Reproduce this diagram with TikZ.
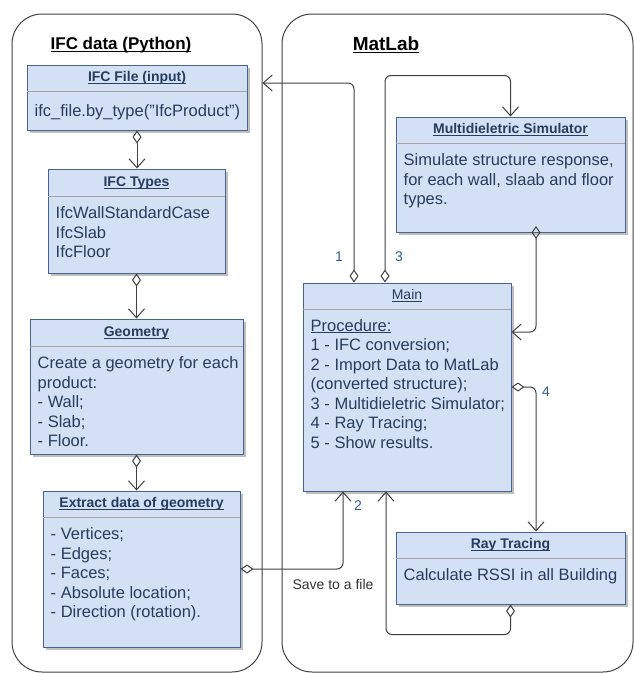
\documentclass[tikz,border=0pt]{standalone}
\usepackage{fontspec}
\setmainfont{Liberation Sans}
\usetikzlibrary{arrows.meta,shadows}

\definecolor{classfill}{RGB}{212,225,245}
\definecolor{classdraw}{RGB}{70,100,145}
\definecolor{classtext}{RGB}{40,60,92}
\definecolor{sepgray}{RGB}{165,165,165}
\definecolor{linegray}{RGB}{64,64,64}
\definecolor{labelblue}{RGB}{50,90,140}

\newcommand{\ulabel}[1]{\underline{\vphantom{X}\smash{#1}}}

\tikzstyle{lane} = [rectangle, rounded corners=30pt, draw=linegray, line width=1pt]
\tikzstyle{lanetitle} = [font=\fontsize{17}{20}\selectfont\bfseries]
\tikzstyle{classbox} = [rectangle, draw=classdraw, line width=1pt, fill=classfill, drop shadow={shadow xshift=3pt, shadow yshift=-3pt, fill=black!50, opacity=0.5}]
\tikzstyle{classtitle} = [text=classtext, font=\fontsize{14}{17}\selectfont\bfseries]
\tikzstyle{classbody} = [anchor=north west, text=classtext, align=left, inner xsep=8pt, inner ysep=10pt, font=\fontsize{16.5}{19.5}\selectfont]
\tikzstyle{separator} = [draw=sepgray, line width=1pt, shorten <=0.5pt, shorten >=0.5pt]
\tikzstyle{link} = [draw=linegray, line width=1pt, rounded corners=6pt, {Diamond[open,length=13pt,width=9pt]}-{Straight Barb[length=9pt,width=16pt]}]
\tikzstyle{linklabel} = [text=labelblue, font=\fontsize{14}{17}\selectfont]

\begin{document}
\begin{tikzpicture}[x=1pt, y=-1pt]
    \useasboundingbox (0,0) rectangle (634,673);

    % Draw lanes
    \node (python) [lane, minimum width=250, minimum height=658] at (137,343) {};
    \node (matlab) [lane, minimum width=351, minimum height=658] at (457.5,343) {};
    \node (pythontitle) [lanetitle] at (121,45) {\ulabel{IFC data (Python)}};
    \node (matlabtitle) [lanetitle, font=\fontsize{19}{22}\selectfont\bfseries] at (386,45) {\ulabel{MatLab}};

    % Draw nodes
    \node (ifcfile) [classbox, minimum width=220, minimum height=65] at (137,97.5) {};
    \draw [separator] ([yshift=-27pt]ifcfile.north west) -- ([yshift=-27pt]ifcfile.north east);
    \node (ifcfiletitle) [classtitle] at ([yshift=-13.5pt]ifcfile.north) {\ulabel{IFC File (input)}};
    \node (ifcfilebody) [classbody] at ([yshift=-30pt]ifcfile.north west) {ifc\_file.by\_type("IfcProduct")};

    \node (ifctypes) [classbox, minimum width=177, minimum height=104] at (136.5,221) {};
    \draw [separator] ([yshift=-28pt]ifctypes.north west) -- ([yshift=-28pt]ifctypes.north east);
    \node (ifctypestitle) [classtitle] at ([yshift=-14pt]ifctypes.north) {\ulabel{IFC Types}};
    \node (ifctypesbody) [classbody] at ([yshift=-28pt]ifctypes.north west) {IfcWallStandardCase\\IfcSlab\\IfcFloor};

    \node (geometry) [classbox, minimum width=213, minimum height=135] at (136.5,386.5) {};
    \draw [separator] ([yshift=-28pt]geometry.north west) -- ([yshift=-28pt]geometry.north east);
    \node (geometrytitle) [classtitle] at ([yshift=-14pt]geometry.north) {\ulabel{Geometry}};
    \node (geometrybody) [classbody] at ([yshift=-28pt]geometry.north west) {Create a geometry for each\\product:\\- Wall;\\- Slab;\\- Floor.};

    \node (extract) [classbox, minimum width=197, minimum height=156] at (141.5,569) {};
    \draw [separator] ([yshift=-27pt]extract.north west) -- ([yshift=-27pt]extract.north east);
    \node (extracttitle) [classtitle] at ([yshift=-13.5pt]extract.north) {\ulabel{Extract data of geometry}};
    \node (extractbody) [classbody] at ([yshift=-27pt]extract.north west) {- Vertices;\\- Edges;\\- Faces;\\- Absolute location;\\- Direction (rotation).};

    \node (multi) [classbox, minimum width=229, minimum height=115] at (510.5,174.5) {};
    \draw [separator] ([yshift=-27pt]multi.north west) -- ([yshift=-27pt]multi.north east);
    \node (multititle) [classtitle] at ([yshift=-13.5pt]multi.north) {\ulabel{Multidieletric Simulator}};
    \node (multibody) [classbody] at ([yshift=-27pt]multi.north west) {Simulate structure response,\\for each wall, slaab and floor\\types.};

    \node (main) [classbox, minimum width=208, minimum height=208] at (407,387) {};
    \draw [separator] ([yshift=-27pt]main.north west) -- ([yshift=-27pt]main.north east);
    \node (maintitle) [classtitle, font=\fontsize{14}{17}\selectfont] at ([yshift=-13.5pt]main.north) {\ulabel{Main}};
    \node (mainbody) [classbody] at ([yshift=-27pt]main.north west) {\ulabel{Procedure:}\\1 - IFC conversion;\\2 - Import Data to MatLab\\(converted structure);\\3 - Multidieletric Simulator;\\4 - Ray Tracing;\\5 - Show results.};

    \node (raytracing) [classbox, minimum width=229, minimum height=72] at (510.5,568) {};
    \draw [separator] ([yshift=-27pt]raytracing.north west) -- ([yshift=-27pt]raytracing.north east);
    \node (raytracingtitle) [classtitle] at ([yshift=-13.5pt]raytracing.north) {\ulabel{Ray Tracing}};
    \node (raytracingbody) [classbody] at ([yshift=-27pt]raytracing.north west) {Calculate RSSI in all Building};

    % Draw connections
    \draw [link] (ifcfile.south) -- (ifcfile.south |- ifctypes.north);
    \draw [link] (ifctypes.south) -- (ifctypes.south |- geometry.north);
    \draw [link] (geometry.south) -- (geometry.south |- extract.north);
    \draw [link] ([xshift=-53pt]main.north) |- (python.east |- 0,83);
    \draw [link] (extract.east) -| ([xshift=-64pt]main.south);
    \draw [link] ([xshift=-22pt]main.north) -- ++(0,-207) -| (multi.north);
    \draw [link] ([xshift=25.5pt, yshift=6.5pt]multi.south) |- ([yshift=55pt]main.east);
    \draw [link] (main.east) -| ([xshift=25.5pt]raytracing.north);
    \draw [link] (raytracing.south) -- ++(0,30) -| ([xshift=-21pt]main.south);

    % Draw labels
    \node (label1) [linklabel] at (339,257) {1};
    \node (label2) [linklabel] at (358,506) {2};
    \node (label3) [linklabel] at (399,257) {3};
    \node (label4) [linklabel] at (546,392) {4};
    \node (savelabel) [font=\fontsize{14}{17}\selectfont, text=black!80] at (333,584) {Save to a file};

\end{tikzpicture}
\end{document}
